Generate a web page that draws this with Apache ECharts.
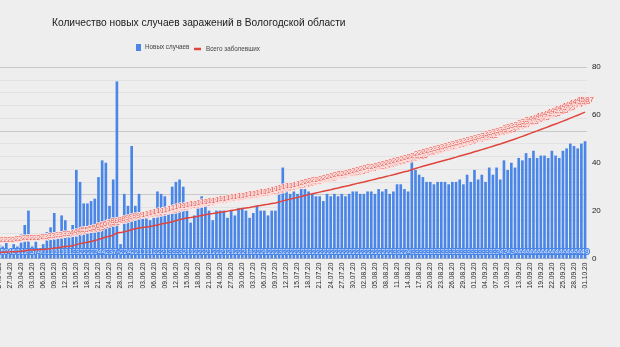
<!DOCTYPE html>
<html>
<head>
<meta charset="utf-8">
<script src="https://cdn.jsdelivr.net/npm/echarts@6/dist/echarts.min.js"></script>
<style>
  html, body { margin: 0; padding: 0; background: #eeeeee; }
  #chart { width: 620px; height: 347px; }
</style>
</head>
<body>
<div id="chart"></div>
<script>
// Daily report dates (26.05 has no entry)
const dates = [
  '24.04.20','25.04.20','26.04.20','27.04.20','28.04.20','29.04.20','30.04.20',
  '01.05.20','02.05.20','03.05.20','04.05.20','05.05.20','06.05.20','07.05.20','08.05.20','09.05.20','10.05.20',
  '11.05.20','12.05.20','13.05.20','14.05.20','15.05.20','16.05.20','17.05.20','18.05.20','19.05.20','20.05.20',
  '21.05.20','22.05.20','23.05.20','24.05.20','25.05.20','27.05.20','28.05.20','29.05.20','30.05.20','31.05.20',
  '01.06.20','02.06.20','03.06.20','04.06.20','05.06.20','06.06.20','07.06.20','08.06.20','09.06.20','10.06.20',
  '11.06.20','12.06.20','13.06.20','14.06.20','15.06.20','16.06.20','17.06.20','18.06.20','19.06.20','20.06.20',
  '21.06.20','22.06.20','23.06.20','24.06.20','25.06.20','26.06.20','27.06.20','28.06.20','29.06.20','30.06.20',
  '01.07.20','02.07.20','03.07.20','04.07.20','05.07.20','06.07.20','07.07.20','08.07.20','09.07.20','10.07.20',
  '11.07.20','12.07.20','13.07.20','14.07.20','15.07.20','16.07.20','17.07.20','18.07.20','19.07.20','20.07.20',
  '21.07.20','22.07.20','23.07.20','24.07.20','25.07.20','26.07.20','27.07.20','28.07.20','29.07.20','30.07.20','31.07.20',
  '01.08.20','02.08.20','03.08.20','04.08.20','05.08.20','06.08.20','07.08.20','08.08.20','09.08.20','10.08.20',
  '11.08.20','12.08.20','13.08.20','14.08.20','15.08.20','16.08.20','17.08.20','18.08.20','19.08.20','20.08.20',
  '21.08.20','22.08.20','23.08.20','24.08.20','25.08.20','26.08.20','27.08.20','28.08.20','29.08.20','30.08.20','31.08.20',
  '01.09.20','02.09.20','03.09.20','04.09.20','05.09.20','06.09.20','07.09.20','08.09.20','09.09.20','10.09.20',
  '11.09.20','12.09.20','13.09.20','14.09.20','15.09.20','16.09.20','17.09.20','18.09.20','19.09.20','20.09.20',
  '21.09.20','22.09.20','23.09.20','24.09.20','25.09.20','26.09.20','27.09.20','28.09.20','29.09.20','30.09.20',
  '01.10.20'
];

// New cases per day
const newCases = [
  6, 5, 9, 4, 6, 5, 10,
  14, 20, 5, 7, 4, 6, 11, 13, 19, 11,
  18, 16, 10, 14, 37, 32, 23, 23, 24, 25,
  34, 41, 40, 22, 33, 74, 6, 27, 22, 47,
  22, 27, 17, 17, 16, 17, 28, 27, 26, 19,
  30, 32, 33, 30, 20, 15, 18, 22, 26, 22,
  20, 16, 20, 20, 20, 17, 20, 18, 21, 21,
  20, 17, 19, 22, 20, 20, 18, 20, 20, 27,
  38, 28, 27, 28, 27, 29, 29, 28, 27, 26,
  26, 24, 27, 26, 27, 26, 27, 26, 27, 28, 28,
  27, 27, 28, 28, 27, 29, 28, 29, 27, 28,
  31, 31, 29, 28, 41, 37, 35, 34, 32, 32,
  31, 32, 32, 32, 31, 32, 32, 33, 31, 35, 32,
  37, 33, 35, 32, 38, 35, 38, 33, 41, 37,
  40, 38, 42, 41, 44, 42, 45, 42, 43, 43,
  42, 45, 43, 42, 45, 46, 48, 47, 46, 48,
  49
];

// Running total of cases
const totalCases = [
  190, 195, 204, 208, 214, 219, 229,
  243, 263, 268, 275, 279, 285, 296, 309, 328, 339,
  357, 373, 383, 397, 434, 466, 489, 512, 536, 561,
  595, 636, 676, 698, 731, 805, 811, 838, 860, 907,
  929, 956, 973, 990, 1006, 1023, 1051, 1078, 1104, 1123,
  1153, 1185, 1218, 1248, 1268, 1283, 1301, 1323, 1349, 1371,
  1391, 1407, 1427, 1447, 1467, 1484, 1504, 1522, 1543, 1564,
  1584, 1601, 1620, 1642, 1662, 1682, 1700, 1720, 1740, 1767,
  1805, 1833, 1860, 1888, 1915, 1944, 1973, 2001, 2028, 2054,
  2080, 2104, 2131, 2157, 2184, 2210, 2237, 2263, 2290, 2318, 2346,
  2373, 2400, 2428, 2456, 2483, 2512, 2540, 2569, 2596, 2624,
  2655, 2686, 2715, 2743, 2784, 2821, 2856, 2890, 2922, 2954,
  2985, 3017, 3049, 3081, 3112, 3144, 3176, 3209, 3240, 3275, 3307,
  3344, 3377, 3412, 3444, 3482, 3517, 3555, 3588, 3629, 3666,
  3706, 3744, 3786, 3827, 3871, 3913, 3958, 4000, 4043, 4086,
  4128, 4173, 4216, 4258, 4303, 4349, 4397, 4444, 4490, 4538,
  4587
];

const seriesNames = ['Новых случаев', 'Всего заболевших'];
const titleText = 'Количество новых случаев заражений в Вологодской области';

const BLUE = '#4a86e8';
const RED = '#e0443c';
const FONT = '"Liberation Sans", Arial, sans-serif';

const chart = echarts.init(document.getElementById('chart'), null, { renderer: 'canvas' });

chart.setOption({
  backgroundColor: '#eeeeee',
  animation: false,
  textStyle: { fontFamily: FONT },
  title: {
    text: titleText,
    left: 52,
    top: 18,
    padding: 0,
    textStyle: { fontSize: 10.2, fontWeight: 'normal', color: '#1a1a1a', fontFamily: FONT }
  },
  legend: [
    {
      data: [seriesNames[0]],
      icon: 'rect',
      left: 136, top: 44,
      padding: 0,
      itemWidth: 5, itemHeight: 7,
      itemGap: 0,
      textStyle: { fontSize: 6.3, color: '#444444', padding: [0, 0, 0, -1] }
    },
    {
      data: [seriesNames[1]],
      icon: 'rect',
      left: 194, top: 46,
      padding: 0,
      itemWidth: 7, itemHeight: 2.5,
      textStyle: { fontSize: 6.3, color: '#444444', padding: [0, 0, 0, 0] }
    }
  ],
  grid: {
    left: -2.9,
    right: 33.1,
    top: 67,
    bottom: 88.5,
    containLabel: false,
    outerBoundsMode: 'none'
  },
  xAxis: {
    type: 'category',
    data: dates,
    boundaryGap: true,
    axisLine: { show: true, lineStyle: { color: '#bdbdbd', width: 1 } },
    axisTick: { show: false },
    axisLabel: {
      interval: 2,
      rotate: 90,
      fontSize: 6.7,
      color: '#2a2a2a',
      margin: 4
    },
    splitLine: { show: false }
  },
  yAxis: [
    {
      type: 'value',
      position: 'left',
      min: 0, max: 6000, interval: 2000,
      axisLabel: { show: false },
      axisLine: { show: false },
      axisTick: { show: false },
      splitLine: { show: true, lineStyle: { color: '#c9c9c9', width: 1 } },
      minorTick: { show: false, splitNumber: 5 },
      minorSplitLine: { show: true, lineStyle: { color: '#e2e2e2', width: 1 } }
    },
    {
      type: 'value',
      position: 'right',
      min: 0, max: 80, interval: 20,
      axisLabel: { show: true, fontSize: 8, color: '#222222', margin: 5 },
      axisLine: { show: false },
      axisTick: { show: false },
      splitLine: { show: false }
    }
  ],
  series: [
    {
      name: seriesNames[0],
      type: 'bar',
      yAxisIndex: 1,
      data: newCases,
      barCategoryGap: '28%',
      itemStyle: { color: BLUE },
      label: {
        show: true,
        position: 'insideBottom',
        distance: 3,
        fontSize: 8,
        color: '#dfe9fc',
        textBorderColor: BLUE,
        textBorderWidth: 2
      },
      labelLayout: { hideOverlap: false },
      z: 2
    },
    {
      name: seriesNames[1],
      type: 'line',
      yAxisIndex: 0,
      data: totalCases,
      smooth: false,
      showSymbol: true,
      showAllSymbol: true,
      symbol: 'circle',
      symbolSize: 0,
      legendIcon: 'rect',
      lineStyle: { color: RED, width: 1.5 },
      itemStyle: { color: RED },
      label: {
        show: true,
        position: 'top',
        distance: 8,
        fontSize: 8,
        color: '#e0605a',
        textBorderColor: '#fce4e2',
        textBorderWidth: 1.5
      },
      labelLayout: { hideOverlap: false },
      z: 3
    }
  ]
});
</script>
</body>
</html>
